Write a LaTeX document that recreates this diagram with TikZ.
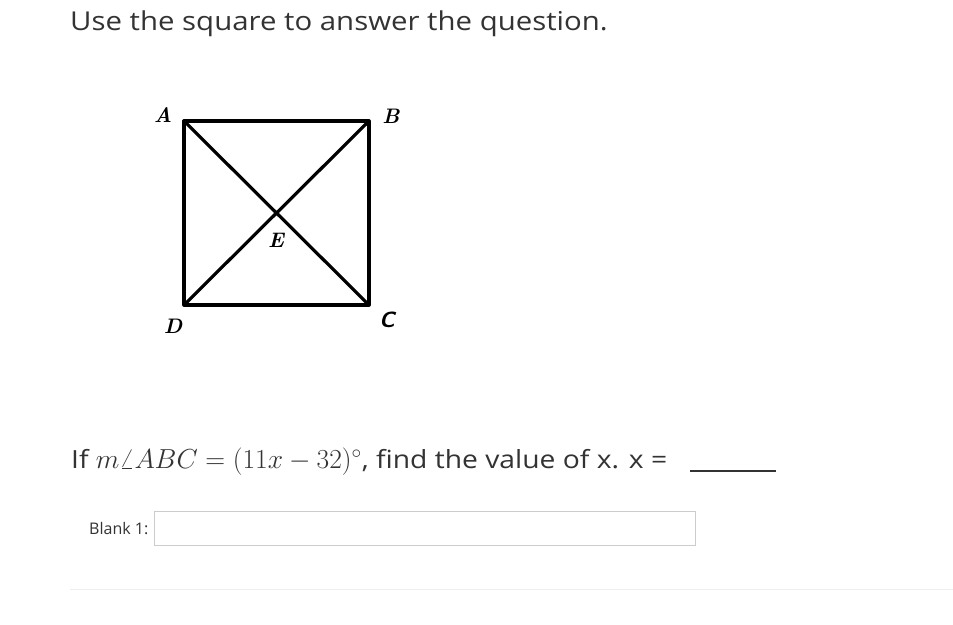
\RequirePackage{fix-cm}
\documentclass[tikz,border=0pt]{standalone}
\usepackage{fontspec}
\setmainfont{Open Sans}
\newfontfamily\widefont[FakeStretch=1.13]{Open Sans}
\newfontfamily\lmserif{Latin Modern Roman}
\definecolor{txt}{HTML}{333333}
\definecolor{boxgray}{HTML}{CCCCCC}
\definecolor{rulegray}{HTML}{EEEEEE}
\begin{document}
\begin{tikzpicture}[x=1pt,y=-1pt,
  sqline/.style={line width=3.2pt,line cap=round,line join=round},
  vlabel/.style={font=\lmserif\bfseries\itshape\fontsize{21}{21}\selectfont},
  txtstyle/.style={text=txt,inner sep=0pt}]
\useasboundingbox[fill=white] (0,0) rectangle (953,624);
% title
\node[txtstyle,anchor=base west,font=\widefont\fontsize{26}{30}\selectfont] (title) at (70,30) {Use the square to answer the question.};
% square
\coordinate (A) at (184,121);
\coordinate (B) at (369,121);
\coordinate (C) at (369,305);
\coordinate (D) at (184,305);
\draw[sqline] (A) -- (B) -- (C) -- (D) -- cycle;
\draw[sqline] (A) -- (C);
\draw[sqline] (B) -- (D);
\node[vlabel] (la) at (163,115) {A};
\node[vlabel] (lb) at (391,116) {B};
\node[font=\sffamily\bfseries\itshape\fontsize{22}{22}\selectfont] (lc) at (387,320) {C};
\node[vlabel] (ld) at (173,326) {D};
\node[vlabel] (le) at (276,240) {E};
% question
\node[txtstyle,anchor=base west,font=\widefont\fontsize{25}{30}\selectfont] (q) at (71,468)
 {If \fontsize{27.5}{30}\selectfont$m\angle ABC=(11x-32)^{\circ}$\widefont\fontsize{25}{30}\selectfont, find the value of x. x =};
\draw[txt,line width=1.2pt] (690,471) -- (776,471);
% blank
\node[txtstyle,anchor=base west,font=\fontsize{16}{20}\selectfont] (bl) at (89,534) {Blank 1:};
\draw[boxgray,line width=1pt] (154.5,511) rectangle (695,545);
\draw[rulegray,line width=1pt] (70,589) -- (953,589);
\end{tikzpicture}
\end{document}
